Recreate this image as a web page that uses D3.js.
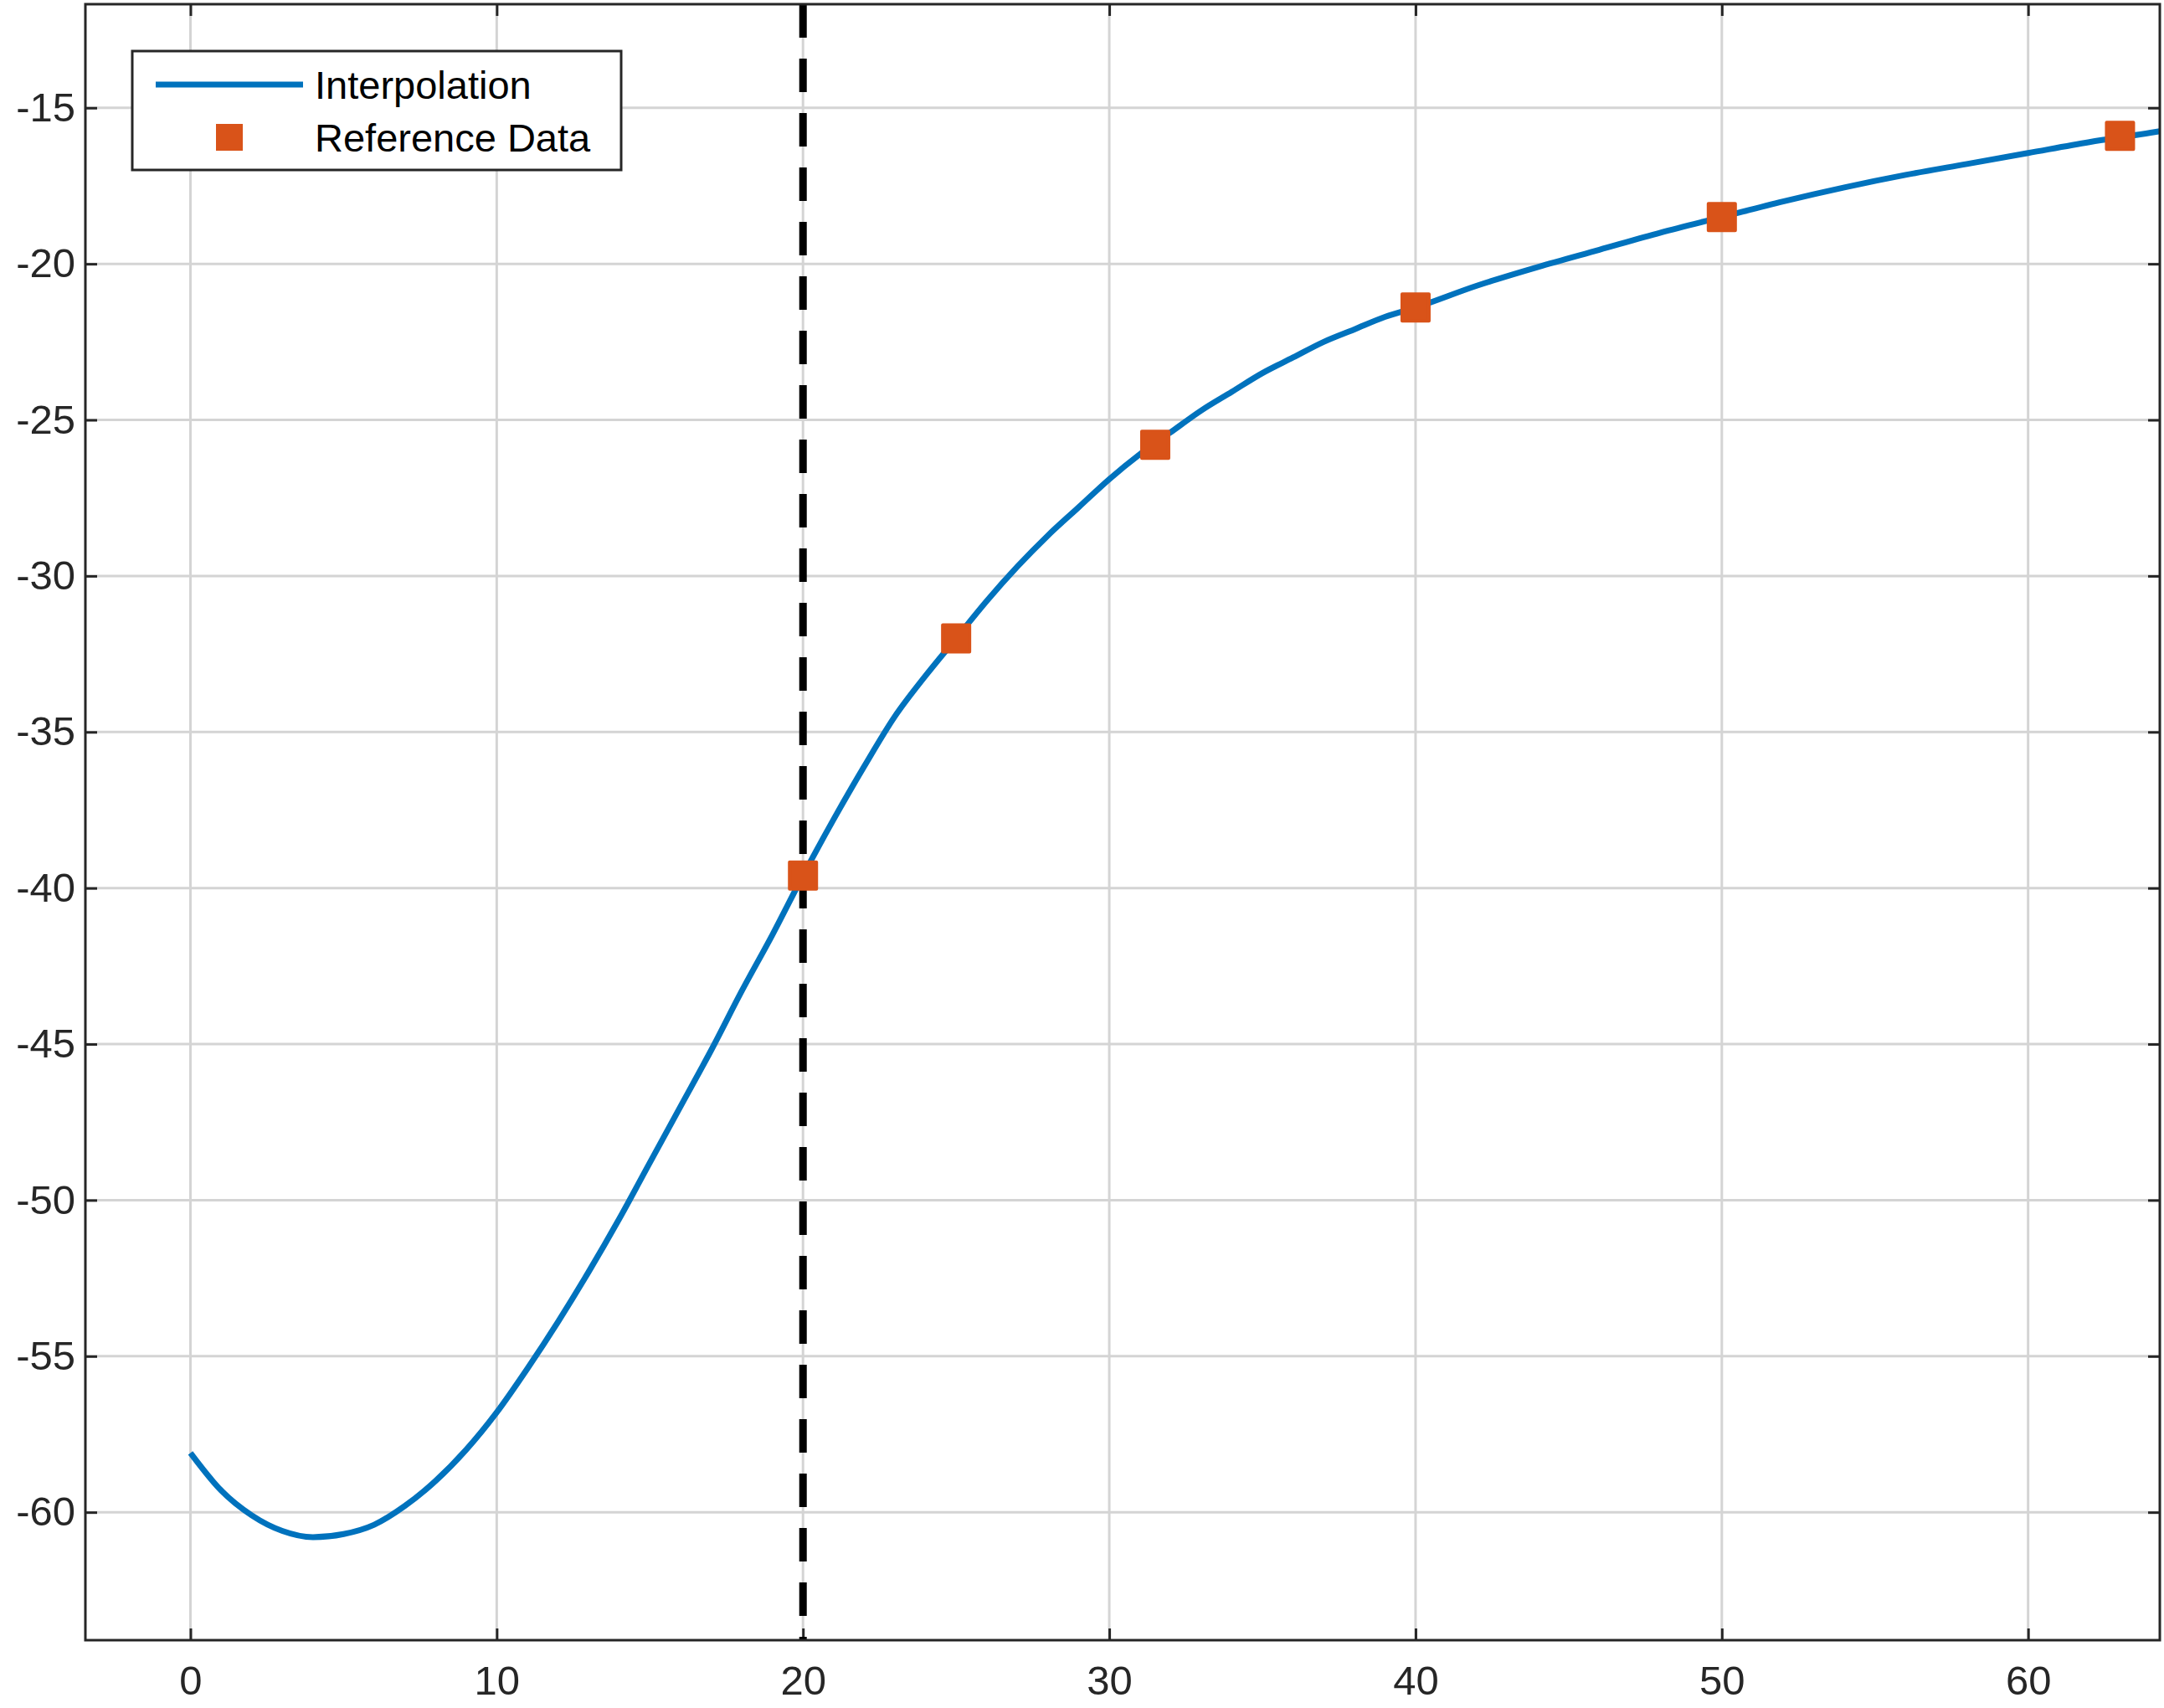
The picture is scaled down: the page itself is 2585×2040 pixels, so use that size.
<!DOCTYPE html><html><head><meta charset="utf-8"><script src="https://cdn.jsdelivr.net/npm/d3@7"></script>
<style>body{margin:0;background:#fff}text{font-family:"Liberation Sans",Arial,sans-serif}</style></head><body><svg id="c" width="2585" height="2040"></svg><script>
const lineX=[0,1,2,3,4,5,6,7,8,9,10,11,12,13,14,15,16,17,18,19,20,21,22,23,24,25,26,27,28,29,30,31,32,33,34,35,36,37,38,39,40,42,44,46,48,50,52,54,56,58,60,62,64,64.3];
const lineY=[-58.1,-59.3,-60.1,-60.6,-60.8,-60.7,-60.4,-59.8,-59.0,-58.0,-56.8,-55.4,-53.9,-52.3,-50.6,-48.8,-47.0,-45.2,-43.3,-41.5,-39.6,-37.8,-36.1,-34.5,-33.2,-32.0,-30.8,-29.7,-28.7,-27.8,-26.9,-26.1,-25.4,-24.7,-24.1,-23.5,-23.0,-22.5,-22.1,-21.7,-21.4,-20.7,-20.1,-19.55,-19.0,-18.5,-18.0,-17.55,-17.15,-16.8,-16.45,-16.1,-15.8,-15.75];
const refX=[20,25,31.5,40,50,63];
const refY=[-39.6,-32.0,-25.8,-21.4,-18.5,-15.9];
const xTicks=[0,10,20,30,40,50,60];
const yTicks=[-15,-20,-25,-30,-35,-40,-45,-50,-55,-60];
const vLine=20;
const L=102,R=2580,T=5,B=1959;
const svg=d3.select("#c");
const x=d3.scaleLinear().domain([-3.43,64.3]).range([L,R]);
const y=d3.scaleLinear().domain([-64.1,-11.68]).range([B,T]);
const g=svg.append("g");
xTicks.forEach(t=>g.append("line").attr("x1",x(t)).attr("x2",x(t)).attr("y1",T).attr("y2",B).attr("stroke","#d4d4d4").attr("stroke-width",3));
yTicks.forEach(t=>g.append("line").attr("y1",y(t)).attr("y2",y(t)).attr("x1",L).attr("x2",R).attr("stroke","#d4d4d4").attr("stroke-width",3));
svg.append("g").attr("transform",`translate(0,${B})`).call(d3.axisBottom(x).tickValues(xTicks).tickSize(-14).tickPadding(30).tickFormat(d3.format("d")))
 .call(a=>{a.select(".domain").remove();a.selectAll("line").attr("stroke","#262626").attr("stroke-width",3);a.selectAll("text").attr("font-size",49).attr("fill","#262626");});
svg.append("g").attr("transform",`translate(${L},0)`).call(d3.axisLeft(y).tickValues(yTicks).tickSize(-14).tickPadding(12).tickFormat(d=>d))
 .call(a=>{a.select(".domain").remove();a.selectAll("line").attr("stroke","#262626").attr("stroke-width",3);a.selectAll("text").attr("font-size",49).attr("fill","#262626");});
svg.append("g").attr("transform",`translate(${R},0)`).call(d3.axisRight(y).tickValues(yTicks).tickSize(-14).tickFormat(""))
 .call(a=>{a.select(".domain").remove();a.selectAll("line").attr("stroke","#262626").attr("stroke-width",3);});
svg.append("g").attr("transform",`translate(0,${T})`).call(d3.axisTop(x).tickValues(xTicks).tickSize(-14).tickFormat(""))
 .call(a=>{a.select(".domain").remove();a.selectAll("line").attr("stroke","#262626").attr("stroke-width",3);});
svg.append("line").attr("x1",x(vLine)).attr("x2",x(vLine)).attr("y1",T).attr("y2",B).attr("stroke","#000").attr("stroke-width",9).attr("stroke-dasharray","40,25");
const ln=d3.line().x((d,i)=>x(lineX[i])).y(d=>y(d)).curve(d3.curveMonotoneX);
svg.append("path").datum(lineY).attr("d",ln).attr("fill","none").attr("stroke","#0072BD").attr("stroke-width",7);
refX.forEach((v,i)=>svg.append("rect").attr("x",x(v)-16).attr("y",y(refY[i])-16).attr("width",32).attr("height",32).attr("fill","#D95319").attr("stroke","#D95319").attr("stroke-width",4).attr("stroke-linejoin","round"));
svg.append("rect").attr("x",L).attr("y",T).attr("width",R-L).attr("height",B-T).attr("fill","none").attr("stroke","#262626").attr("stroke-width",3);
const lg=svg.append("g");
lg.append("rect").attr("x",158).attr("y",61).attr("width",584).attr("height",142).attr("fill","#fff").attr("stroke","#262626").attr("stroke-width",3);
lg.append("line").attr("x1",186).attr("x2",362).attr("y1",101).attr("y2",101).attr("stroke","#0072BD").attr("stroke-width",7);
lg.append("rect").attr("x",258).attr("y",148).attr("width",32).attr("height",32).attr("fill","#D95319");
lg.append("text").attr("x",376).attr("y",118).attr("font-size",47).attr("fill","#000").text("Interpolation");
lg.append("text").attr("x",376).attr("y",181).attr("font-size",47).attr("fill","#000").text("Reference Data");
</script></body></html>
